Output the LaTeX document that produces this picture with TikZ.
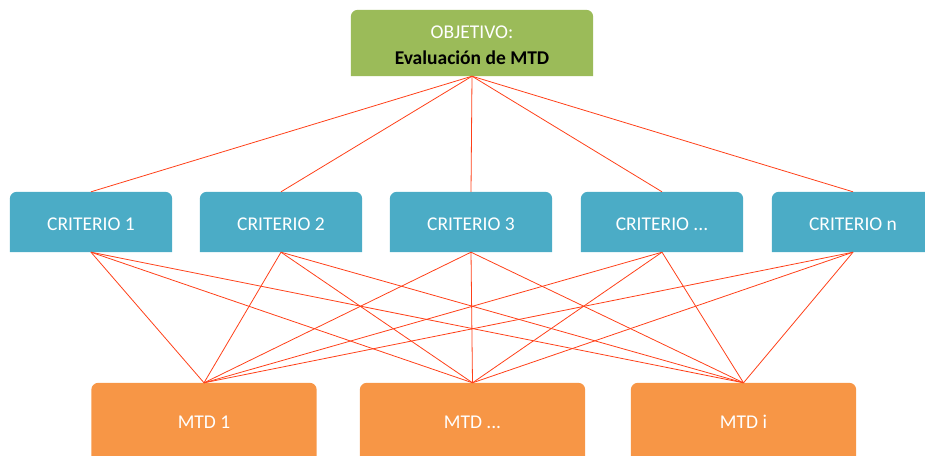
\documentclass[tikz,border=0pt]{standalone}
\usepackage{fontspec}
\setmainfont{Carlito}
\usetikzlibrary{backgrounds}
\definecolor{goal}{HTML}{9BBB59}
\definecolor{crit}{HTML}{4BACC6}
\definecolor{mtd}{HTML}{F79646}
\definecolor{link}{HTML}{FF4019}
\tikzset{box/.style={align=center,inner sep=0pt,text=white,font=\fontsize{19.5}{26}\selectfont},goalbox/.style={box,minimum width=242pt,minimum height=66pt},critbox/.style={box,text height=17.5pt,text depth=0pt,minimum width=162pt,minimum height=60pt},mtdbox/.style={box,text height=17.5pt,text depth=0pt,minimum width=225pt,minimum height=73pt},wire/.style={draw=link,line width=0.8pt}}
\begin{document}
\begin{tikzpicture}[x=1pt,y=-1pt]
\useasboundingbox (0,0) rectangle (925,455);
\node[goalbox] (obj) at (472,43) {\rule{0pt}{18pt}OBJETIVO:\\\textcolor{black}{\bfseries Evaluación de MTD}};
\node[critbox] (c1) at (91,222) {CRITERIO 1};
\node[critbox] (c2) at (281,222) {CRITERIO 2};
\node[critbox] (c3) at (471,222) {CRITERIO 3};
\node[critbox] (c4) at (662,222) {CRITERIO ...};
\node[critbox] (c5) at (853,222) {CRITERIO n};
\node[mtdbox] (m1) at (204,419.5) {MTD 1};
\node[mtdbox] (m2) at (472.5,419.5) {MTD ...};
\node[mtdbox] (m3) at (743.5,419.5) {MTD i};
\begin{scope}[on background layer]
\foreach \n/\c in {obj/goal,c1/crit,c2/crit,c3/crit,c4/crit,c5/crit,m1/mtd,m2/mtd,m3/mtd} \fill[\c,rounded corners=7pt] (\n.south west) -- (\n.north west) -- (\n.north east) -- (\n.south east);
\end{scope}
\foreach \c in {c1,c2,c3,c4,c5} \draw[wire] (obj.south) -- (\c.north);
\foreach \c in {c1,c2,c3,c4,c5} \foreach \m in {m1,m2,m3} \draw[wire] (\c.south) -- (\m.north);
\end{tikzpicture}
\end{document}
